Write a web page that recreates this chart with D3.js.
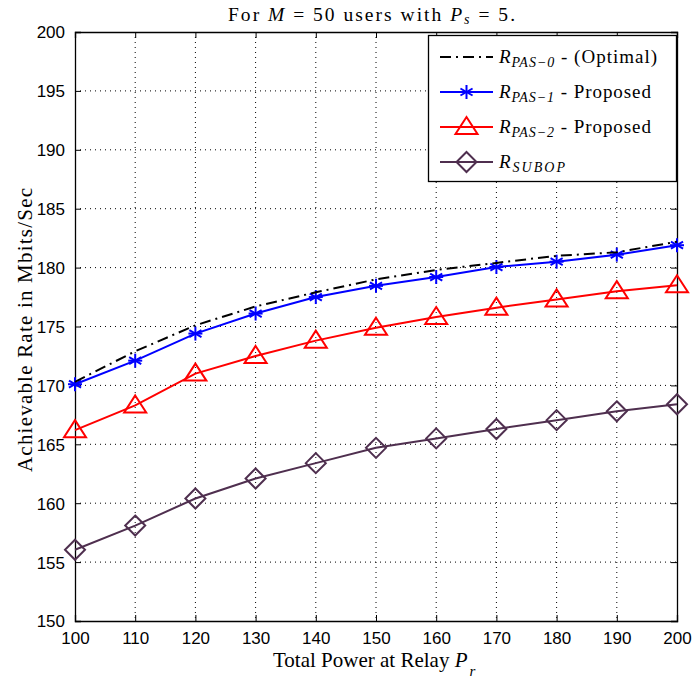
<!DOCTYPE html>
<html><head><meta charset="utf-8">
<script src="https://cdn.jsdelivr.net/npm/d3@7"></script>
<style>body{margin:0;background:#fff}</style>
</head><body>
<script>
const xValues = [100,110,120,130,140,150,160,170,180,190,200];
const optimal = [170.3,172.9,175.1,176.7,177.9,179.0,179.8,180.4,181.0,181.3,182.2];
const pas1 = [170.1,172.1,174.4,176.1,177.5,178.45,179.2,180.05,180.5,181.1,181.9];
const pas2 = [166.2,168.3,171.0,172.5,173.8,174.9,175.8,176.6,177.3,178.0,178.5];
const subop = [156.05,158.1,160.4,162.1,163.4,164.7,165.5,166.3,167.05,167.8,168.4];
const xTicks = [100,110,120,130,140,150,160,170,180,190,200];
const yTicks = [150,155,160,165,170,175,180,185,190,195,200];

const W=694,H=681;
const L=75,R=677,T=32,B=621;
const SERIF="Liberation Serif, Times New Roman, serif";
const svg=d3.select("body").append("svg").attr("width",W).attr("height",H);
const x=d3.scaleLinear().domain([100,200]).range([L,R]);
const y=d3.scaleLinear().domain([150,200]).range([B,T]);

// grid
const g=svg.append("g");
g.selectAll(".gx").data(xTicks.slice(1,-1)).join("line")
 .attr("x1",d=>x(d)).attr("x2",d=>x(d)).attr("y1",T).attr("y2",B)
 .attr("stroke","#000").attr("stroke-width",1).attr("stroke-dasharray","1,4");
g.selectAll(".gy").data(yTicks.slice(1,-1)).join("line")
 .attr("y1",d=>y(d)).attr("y2",d=>y(d)).attr("x1",L).attr("x2",R)
 .attr("stroke","#000").attr("stroke-width",1).attr("stroke-dasharray","1,4");

// axes (ticks inward)
const axB=svg.append("g").attr("transform",`translate(0,${B})`)
 .call(d3.axisBottom(x).tickValues(xTicks).tickSize(-6).tickPadding(11));
const axT=svg.append("g").attr("transform",`translate(0,${T})`)
 .call(d3.axisTop(x).tickValues(xTicks).tickSize(-6).tickFormat(""));
const axL=svg.append("g").attr("transform",`translate(${L},0)`)
 .call(d3.axisLeft(y).tickValues(yTicks).tickSize(-6).tickPadding(10));
const axR=svg.append("g").attr("transform",`translate(${R},0)`)
 .call(d3.axisRight(y).tickValues(yTicks).tickSize(-6).tickFormat(""));
[axB,axT,axL,axR].forEach(a=>{
 a.select(".domain").attr("stroke","#000").attr("stroke-width",1.3);
 a.selectAll(".tick line").attr("stroke","#000");
 a.selectAll("text").attr("font-family","Liberation Sans, Arial, sans-serif").attr("font-size",17).attr("fill","#000");
});
axL.selectAll("text").attr("dy","0.35em");

// lines
const line=d3.line().x((d,i)=>x(xValues[i])).y(d=>y(d));
const series=[
 {data:optimal,color:"#000",dash:"11,5,2,5",marker:null},
 {data:pas1,color:"#0000ff",dash:null,marker:"star"},
 {data:pas2,color:"#ff0000",dash:null,marker:"tri"},
 {data:subop,color:"#4f2f4f",dash:null,marker:"dia"}
];
function drawMarker(sel,type,color){
 if(type==="star"){
  const r=7;
  [0,60,120].forEach(a=>{
   const rad=a*Math.PI/180;
   sel.append("line").attr("x1",-r*Math.sin(rad)).attr("y1",-r*Math.cos(rad))
    .attr("x2",r*Math.sin(rad)).attr("y2",r*Math.cos(rad)).attr("stroke",color).attr("stroke-width",2);
  });
  sel.append("line").attr("x1",-r).attr("x2",r).attr("y1",0).attr("y2",0).attr("stroke",color).attr("stroke-width",2);
 } else if(type==="tri"){
  sel.append("path").attr("d","M0,-10 L11,7 L-11,7 Z").attr("fill","none").attr("stroke",color).attr("stroke-width",2);
 } else if(type==="dia"){
  sel.append("path").attr("d","M0,-10 L10,0 L0,10 L-10,0 Z").attr("fill","none").attr("stroke",color).attr("stroke-width",2);
 }
}
[3,2,1,0].forEach(k=>{
 const s=series[k];
 svg.append("path").attr("d",line(s.data)).attr("fill","none").attr("stroke",s.color)
  .attr("stroke-width",2).attr("stroke-dasharray",s.dash);
 if(s.marker){
  s.data.forEach((v,i)=>{
   const m=svg.append("g").attr("transform",`translate(${x(xValues[i])},${y(v)})`);
   drawMarker(m,s.marker,s.color);
  });
 }
});

// legend
const lg=svg.append("g");
lg.append("rect").attr("x",428.5).attr("y",35.5).attr("width",248).attr("height",146)
 .attr("fill","#fff").attr("stroke","#000").attr("stroke-width",1.3);
const legLabels=[
 {sub:"PAS\u22120",rest:" - (Optimal)",len:158},
 {sub:"PAS\u22121",rest:" - Proposed",len:152},
 {sub:"PAS\u22122",rest:" - Proposed",len:152},
 {sub:"SUBOP",rest:"",len:66}
];
const legY=[57,92,127,162];
series.forEach((s,i)=>{
 const yy=legY[i];
 lg.append("line").attr("x1",440).attr("x2",493).attr("y1",yy).attr("y2",yy)
  .attr("stroke",s.color).attr("stroke-width",2).attr("stroke-dasharray",s.dash);
 if(s.marker){
  const m=lg.append("g").attr("transform",`translate(466.5,${yy})`);
  drawMarker(m,s.marker,s.color);
 }
 const t=lg.append("text").attr("x",499).attr("y",yy+6).attr("font-family",SERIF).attr("font-size",19).attr("fill","#000")
  .attr("textLength",legLabels[i].len).attr("lengthAdjust","spacing");
 t.append("tspan").attr("font-style","italic").text("R");
 t.append("tspan").attr("font-style","italic").attr("font-size",14).attr("dy",4).text(legLabels[i].sub);
 if(legLabels[i].rest) t.append("tspan").attr("dy",-4).text(legLabels[i].rest);
});

// title
const tt=svg.append("text").attr("x",228).attr("y",21)
 .attr("font-family",SERIF).attr("font-size",19.5).attr("textLength",287).attr("lengthAdjust","spacing");
tt.append("tspan").text("For ");
tt.append("tspan").attr("font-style","italic").text("M");
tt.append("tspan").text("  = 50 users with ");
tt.append("tspan").attr("font-style","italic").text("P");
tt.append("tspan").attr("font-style","italic").attr("font-size",14).attr("dy",3).text("s");
tt.append("tspan").attr("dy",-3).text(" = 5.");

// x label
const xl=svg.append("text").attr("x",273).attr("y",667)
 .attr("font-family",SERIF).attr("font-size",21);
xl.append("tspan").text("Total Power at Relay ");
xl.append("tspan").attr("font-style","italic").text("P");
xl.append("tspan").attr("font-style","italic").attr("font-size",15).attr("dy",9).attr("dx",2).text("r");

// y label
svg.append("text").attr("transform",`translate(32,330) rotate(-90)`).attr("text-anchor","middle")
 .attr("font-family",SERIF).attr("font-size",21).attr("textLength",284).attr("lengthAdjust","spacing")
 .text("Achievable Rate in Mbits/Sec");
</script>
</body></html>
